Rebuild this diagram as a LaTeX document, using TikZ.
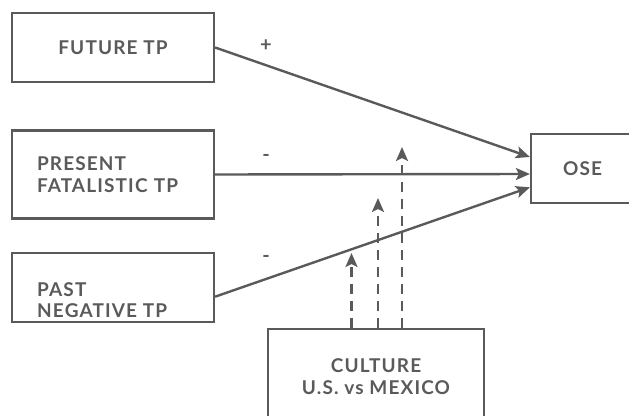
\documentclass[tikz,border=0pt]{standalone}
\usepackage{fontspec}
\setmainfont{Lato}
\newfontfamily\labfont[LetterSpace=6]{Lato}
\usetikzlibrary{arrows.meta}
\definecolor{ink}{HTML}{5A5A5A}
\begin{document}
\begin{tikzpicture}[x=1pt,y=-1pt,
  box/.style={draw=ink,line width=2.2pt,inner sep=0pt,font=\labfont\bfseries\fontsize{19}{21.7}\selectfont,text=ink},
  lab/.style={inner sep=0pt,font=\labfont\bfseries\fontsize{19}{21.7}\selectfont,text=ink,align=left},
  conn/.style={draw=ink,line width=2.4pt,-{Stealth[length=14pt,width=12pt,inset=3pt]}},
  mod/.style={conn,dash pattern=on 10pt off 7pt},
  sign/.style={inner sep=0pt,font=\bfseries\fontsize{20}{20}\selectfont,text=ink}]
\useasboundingbox (0,0) rectangle (629,415);
\clip (0,0) rectangle (629,415);
\node[box,minimum width=202pt,minimum height=69pt] (future) at (113,47.5) {FUTURE TP};
\node[box,minimum width=202pt,minimum height=88pt,text width=152pt,align=left,inner xsep=25pt] (present) at (113,174.5) {PRESENT\\FATALISTIC TP};
\node[box,minimum width=202pt,minimum height=69pt] (pastbox) at (113,287.5) {};
\node[lab,anchor=west] (pasttext) at (37,300) {PAST\\NEGATIVE TP};
\node[box,minimum width=103pt,minimum height=69pt] (ose) at (582.5,168.8) {OSE};
\node[box,minimum width=216pt,minimum height=95pt,align=center] (culture) at (376,376.5) {CULTURE\\U.S. vs MEXICO};
\coordinate (m1) at (351.5,253);
\coordinate (m2) at (378,198);
\coordinate (m3) at (402,147);
\draw[conn] (future.east) -- ([yshift=11.8pt]ose.west);
\draw[conn] (present.east) -- ([yshift=-5.2pt]ose.west);
\draw[conn] ([yshift=-9.2pt]pastbox.east) -- ([yshift=-18.5pt]ose.west);
\draw[mod] (culture.north -| m1) -- (m1);
\draw[mod] (culture.north -| m2) -- (m2);
\draw[mod] (culture.north -| m3) -- (m3);
\node[sign] (plus) at (266,46) {+};
\node[sign] (minus1) at (266,158.3) {-};
\node[sign] (minus2) at (266,259) {-};
\end{tikzpicture}
\end{document}
